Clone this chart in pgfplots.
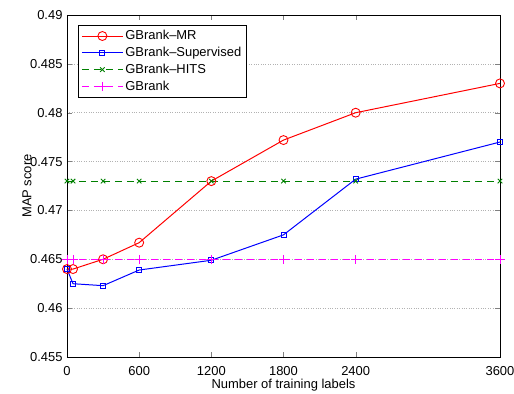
\documentclass[border=0pt]{standalone}
\usepackage{fontspec}
\setmainfont{Liberation Sans}
\usepackage{pgfplots}
\pgfplotsset{compat=1.18}
\definecolor{mgreen}{rgb}{0,0.5,0}
\definecolor{mmag}{rgb}{1,0,1}
\definecolor{mred}{rgb}{1,0,0}
\definecolor{mblue}{rgb}{0,0,1}
\begin{document}
\fontsize{13}{15}\selectfont
\begin{tikzpicture}
\begin{axis}[
  scale only axis, width=433bp, height=342bp, clip=false,
  xmin=0, xmax=3600, ymin=0.455, ymax=0.49,
  xtick={0,600,1200,1800,2400,3600},
  ytick={0.455,0.46,0.465,0.47,0.475,0.48,0.485,0.49},
  scaled y ticks=false, scaled x ticks=false,
  /pgf/number format/assume math mode=true,
  yticklabel style={/pgf/number format/.cd, fixed, precision=3},
  xticklabel style={yshift=-5bp, /pgf/number format/.cd, fixed, 1000 sep={}},
  tick align=inside, major tick length=5bp,
  ymajorgrids, grid style={dotted, gray!60, line width=0.6pt},
  axis line style={line width=0.9pt},
  xlabel={Number of training labels}, ylabel={MAP score},
  every axis x label/.style={at={(axis description cs:0.5,-0.082)}, anchor=center},
  every axis y label/.style={at={(axis description cs:-0.0924,0.5)}, anchor=center, rotate=90},
  tick label style={font=\fontsize{13}{15}\selectfont},
  label style={font=\fontsize{13}{15}\selectfont},
  legend style={at={(axis description cs:0.0254,0.971)}, anchor=north west, draw=black, line width=0.9pt, font=\fontsize{13}{15}\selectfont, row sep=1.5pt, inner xsep=3pt, inner ysep=3pt},
  legend cell align=left,
  legend image code/.code={\draw[mark repeat=2,mark phase=2] plot coordinates {(0cm,0cm) (0.72cm,0cm) (1.44cm,0cm)};},
]
\addplot[color=mgreen, line width=1.1pt, dash pattern=on 7bp off 5bp, no markers, forget plot] coordinates {
(0,0.473) (50,0.473) (300,0.473) (600,0.473) (1200,0.473) (1800,0.473) (2400,0.473) (3600,0.473)};
\addplot[color=mmag, line width=1.1pt, dash pattern=on 7bp off 5bp, no markers, forget plot] coordinates {
(0,0.465) (50,0.465) (300,0.465) (600,0.465) (1200,0.465) (1800,0.465) (2400,0.465) (3600,0.465)};
\addplot[color=mred, line width=1pt, mark=o, mark size=4.5bp, mark options={solid, mred, line width=0.9pt}] coordinates {
(0,0.464) (50,0.464) (300,0.465) (600,0.4667) (1200,0.473) (1800,0.4772) (2400,0.480) (3600,0.483)};
\addlegendentry{GBrank--MR}
\addplot[color=mblue, line width=1pt, mark=square, mark size=2.5bp, mark options={solid, mblue, line width=0.9pt}] coordinates {
(0,0.464) (50,0.4625) (300,0.4623) (600,0.4639) (1200,0.4649) (1800,0.4675) (2400,0.4732) (3600,0.477)};
\addlegendentry{GBrank--Supervised}
\addplot[color=mgreen, only marks, mark=x, mark size=3.2bp, mark options={mgreen, line width=0.9pt},
  legend image code/.code={\draw[mgreen, line width=1.1pt, dash pattern=on 7bp off 5bp] (0cm,0cm) -- (1.44cm,0cm); \draw[mgreen, line width=0.9pt] plot[mark=x, mark size=3.2bp] coordinates {(0.72cm,0cm)};}] coordinates {
(0,0.473) (50,0.473) (300,0.473) (600,0.473) (1200,0.473) (1800,0.473) (2400,0.473) (3600,0.473)};
\addlegendentry{GBrank--HITS}
\addplot[color=mmag, only marks, mark=+, mark size=4.5bp, mark options={mmag, line width=0.9pt},
  legend image code/.code={\draw[mmag, line width=1.1pt, dash pattern=on 7bp off 5bp] (0cm,0cm) -- (1.44cm,0cm); \draw[mmag, line width=0.9pt] plot[mark=+, mark size=4.5bp] coordinates {(0.72cm,0cm)};}] coordinates {
(0,0.465) (50,0.465) (300,0.465) (600,0.465) (1200,0.465) (1800,0.465) (2400,0.465) (3600,0.465)};
\addlegendentry{GBrank}
\end{axis}
\pgfresetboundingbox
\path (current axis.south west) ++(-67bp,-37bp) rectangle ++(514bp,394bp);
\end{tikzpicture}
\end{document}
